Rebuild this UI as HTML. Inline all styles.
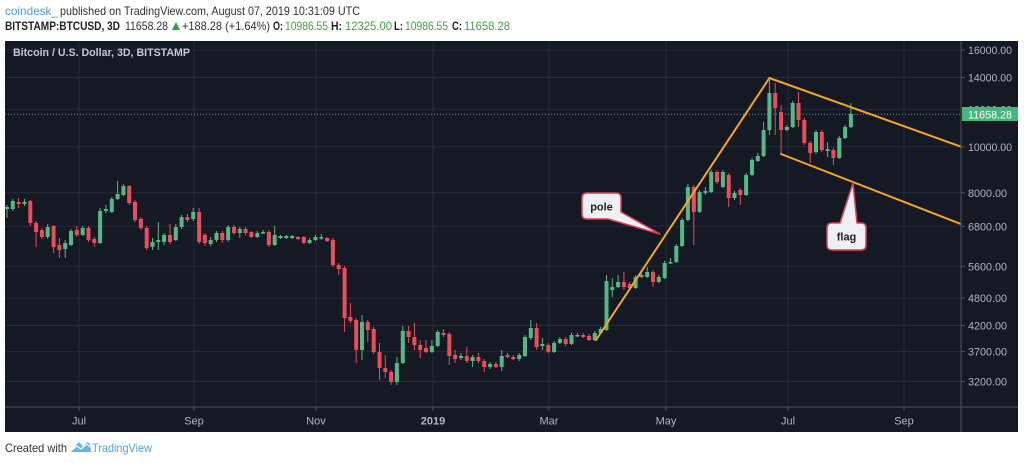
<!DOCTYPE html>
<html><head><meta charset="utf-8"><style>
html,body{margin:0;padding:0;background:#fff;width:1024px;height:463px;overflow:hidden}
svg{display:block}
text{font-family:"Liberation Sans",sans-serif}
</style></head><body>
<svg width="1024" height="463" viewBox="0 0 1024 463" xmlns="http://www.w3.org/2000/svg">
<rect x="0" y="0" width="1024" height="463" fill="#ffffff"/>
<!-- header -->
<text x="5" y="15" font-size="12" fill="#4a9fd8" textLength="53" lengthAdjust="spacingAndGlyphs">coindesk_</text>
<text x="60" y="15" font-size="12" fill="#333" textLength="300" lengthAdjust="spacingAndGlyphs">published on TradingView.com, August 07, 2019 10:31:09 UTC</text>
<text x="5" y="30" font-size="12" font-weight="bold" fill="#222" textLength="115" lengthAdjust="spacingAndGlyphs">BITSTAMP:BTCUSD, 3D</text>
<text x="125" y="30" font-size="12" fill="#333" textLength="43" lengthAdjust="spacingAndGlyphs">11658.28</text>
<polygon points="172,30 180,30 176,22" fill="#2e9e3e"/>
<text x="182" y="30" font-size="12" fill="#333" textLength="88" lengthAdjust="spacingAndGlyphs">+188.28 (+1.64%)</text>
<text x="273" y="30" font-size="12" font-weight="bold" fill="#222" textLength="10" lengthAdjust="spacingAndGlyphs">O:</text>
<text x="285" y="30" font-size="12" fill="#43a047" textLength="43" lengthAdjust="spacingAndGlyphs">10986.55</text>
<text x="331" y="30" font-size="12" font-weight="bold" fill="#222" textLength="11" lengthAdjust="spacingAndGlyphs">H:</text>
<text x="345" y="30" font-size="12" fill="#43a047" textLength="47" lengthAdjust="spacingAndGlyphs">12325.00</text>
<text x="394" y="30" font-size="12" font-weight="bold" fill="#222" textLength="9" lengthAdjust="spacingAndGlyphs">L:</text>
<text x="405" y="30" font-size="12" fill="#43a047" textLength="43" lengthAdjust="spacingAndGlyphs">10986.55</text>
<text x="452" y="30" font-size="12" font-weight="bold" fill="#222" textLength="10" lengthAdjust="spacingAndGlyphs">C:</text>
<text x="464" y="30" font-size="12" fill="#43a047" textLength="46" lengthAdjust="spacingAndGlyphs">11658.28</text>

<!-- panel -->
<rect x="5" y="41" width="1013" height="391" fill="#151924"/>
<!-- grid -->
<g stroke="#262b38" stroke-width="1">
<line x1="5" x2="961" y1="50" y2="50"/>
<line x1="5" x2="961" y1="77.5" y2="77.5"/>
<line x1="5" x2="961" y1="109.3" y2="109.3"/>
<line x1="5" x2="961" y1="146.8" y2="146.8"/>
<line x1="5" x2="961" y1="192.8" y2="192.8"/>
<line x1="5" x2="961" y1="226.3" y2="226.3"/>
<line x1="5" x2="961" y1="266.3" y2="266.3"/>
<line x1="5" x2="961" y1="298" y2="298"/>
<line x1="5" x2="961" y1="325.5" y2="325.5"/>
<line x1="5" x2="961" y1="351.6" y2="351.6"/>
<line x1="5" x2="961" y1="381.5" y2="381.5"/>
<line x1="79" x2="79" y1="41" y2="407"/>
<line x1="194" x2="194" y1="41" y2="407"/>
<line x1="316" x2="316" y1="41" y2="407"/>
<line x1="433" x2="433" y1="41" y2="407"/>
<line x1="549" x2="549" y1="41" y2="407"/>
<line x1="666" x2="666" y1="41" y2="407"/>
<line x1="788" x2="788" y1="41" y2="407"/>
<line x1="904" x2="904" y1="41" y2="407"/>
</g>
<text x="13" y="56" font-size="11" font-weight="bold" fill="#c5c8ce" textLength="177" lengthAdjust="spacingAndGlyphs">Bitcoin / U.S. Dollar, 3D, BITSTAMP</text>

<clipPath id="plot"><rect x="5" y="41" width="956" height="366"/></clipPath>
<g clip-path="url(#plot)">
<!-- current price dotted line -->
<line x1="5" x2="961" y1="114.3" y2="114.3" stroke="#5f9f86" stroke-width="1" stroke-dasharray="1,2"/>
<!-- green wicks -->
<path fill="none" stroke="#53b987" stroke-width="1" d="M7 205V218M12.8 199V211M24.5 199V206M47.7 224V239M65.2 240V258M71 229V246M82.7 226V236M100.1 208V244M105.9 205V213M111.8 197V213M117.6 181V200M123.4 184V196M152.5 238V250M158.3 222V250M164.1 233V245M175.8 224V241M181.6 215V229M193.2 208V221M210.7 237V246M216.5 231V242M228.2 225V242M239.8 227V238M257.3 231V238M263.1 230V234M274.7 226V246M280.5 235V239M286.4 235V239M292.2 235V239M309.6 238V244M315.5 235V241M321.3 234V240M362 315V360M396.9 357V385M402.8 326V364M431.9 340V353M437.7 330V347M461 353V360M472.6 355V367M490.1 362V369M501.7 350V371M519.2 353V361M525 335V357M530.8 320V340M542.4 338V350M554.1 341V353M559.9 337V344M571.5 333V345M577.4 333V337M594.8 331V341M600.6 327V334M606.5 275V331M612.3 278V297M618.1 275V288M635.6 275V289M641.4 273V278M647.2 267V278M658.8 275V283M664.7 261V279M670.5 258V264M676.3 244V263M682.1 218V247M687.9 184V221M699.6 190V213M705.4 187V195M711.2 170V193M722.9 170V188M734.5 191V200M746.1 173V196M752 158V176M757.8 153V162M763.6 122V157M769.4 80V135M786.9 125V131M792.7 101V128M816 130V154M827.6 142V157M839.3 136V159M845.1 125V139M850.9 103V128"/>
<!-- green bodies -->
<path fill="#53b987" d="M5 207h4V209h-4ZM10.8 201h4V209h-4ZM22.5 202h4V204h-4ZM45.7 227h4V237h-4ZM63.2 243h4V249h-4ZM69 231h4V245h-4ZM80.7 228h4V235h-4ZM98.1 211h4V243h-4ZM103.9 209h4V211h-4ZM109.8 199h4V212h-4ZM115.6 194h4V199h-4ZM121.4 186h4V195h-4ZM150.5 242h4V247h-4ZM156.3 240h4V242h-4ZM162.1 235h4V242h-4ZM173.8 227h4V240h-4ZM179.6 217h4V227h-4ZM191.2 212h4V219h-4ZM208.7 240h4V244h-4ZM214.5 233h4V240h-4ZM226.2 227h4V240h-4ZM237.8 229h4V233h-4ZM255.3 233h4V237h-4ZM261.1 232h4V233.5h-4ZM272.7 235h4V245h-4ZM278.5 236h4V238h-4ZM284.4 236h4V238h-4ZM290.2 236h4V238h-4ZM307.6 240h4V243h-4ZM313.5 237h4V240h-4ZM319.3 237h4V238.5h-4ZM360 322h4V350h-4ZM394.9 363h4V382h-4ZM400.8 331h4V363h-4ZM429.9 346h4V352h-4ZM435.7 332h4V346h-4ZM459 356h4V358h-4ZM470.6 357h4V361h-4ZM488.1 364h4V367h-4ZM499.7 356h4V367h-4ZM517.2 355h4V359h-4ZM523 337h4V356h-4ZM528.8 328h4V338h-4ZM540.4 344h4V346h-4ZM552.1 343h4V352h-4ZM557.9 339h4V343h-4ZM569.5 335h4V344h-4ZM575.4 335h4V336.5h-4ZM592.8 333h4V340h-4ZM598.6 329h4V333h-4ZM604.5 281h4V330h-4ZM610.3 287h4V290h-4ZM616.1 282h4V287h-4ZM633.6 277h4V288h-4ZM639.4 275h4V277h-4ZM645.2 272h4V277h-4ZM656.8 277h4V282h-4ZM662.7 263h4V278h-4ZM668.5 262h4V263.5h-4ZM674.3 246h4V262h-4ZM680.1 220h4V246h-4ZM685.9 187h4V220h-4ZM697.6 192h4V212h-4ZM703.4 191h4V193h-4ZM709.2 172h4V192h-4ZM720.9 172h4V187h-4ZM732.5 193h4V198h-4ZM744.1 175h4V195h-4ZM750 160h4V175h-4ZM755.8 156h4V161h-4ZM761.6 130h4V156h-4ZM767.4 93h4V130h-4ZM784.9 127h4V130h-4ZM790.7 103h4V127h-4ZM814 132h4V152h-4ZM825.6 149h4V151h-4ZM837.3 138h4V158h-4ZM843.1 127h4V138h-4ZM848.9 114h4V127h-4Z"/>
<!-- red wicks -->
<path fill="none" stroke="#eb4d5c" stroke-width="1" d="M18.6 198V208M30.3 200V226M36.1 221V247M41.9 228V239M53.6 225V253M59.4 238V258M76.8 226V237M88.5 226V242M94.3 237V247M129.2 185V205M135 200V222M140.9 217V230M146.7 226V250M170 224V244M187.4 214V222M199.1 208V244M204.9 233V246M222.3 231V243M234 225V235M245.6 227V235M251.4 231V238M268.9 230V247M298 236V240M303.8 236V244M327.1 237V242M332.9 238V267M338.7 263V275M344.6 266V332M350.4 303V323M356.2 318V363M367.8 320V342M373.7 327V354M379.5 343V380M385.3 355V378M391.1 370V385M408.6 326V343M414.4 323V350M420.2 340V358M426 340V353M443.5 329V337M449.3 332V365M455.1 350V363M466.8 347V363M478.4 353V363M484.2 359V372M495.9 362V368M507.5 353V358M513.3 355V360M536.6 323V350M548.3 343V353M565.7 337V346M583.2 333V338M589 334V341M623.9 272V290M629.7 282V290M653 270V287M693.8 185V245M717 170V184M728.7 173V207M740.3 188V205M775.2 83V135M781.1 105V153M798.5 92V127M804.3 118V145M810.2 141V163M821.8 130V152M833.4 148V165"/>
<!-- red bodies -->
<path fill="#eb4d5c" d="M16.6 202h4V204h-4ZM28.3 201h4V223h-4ZM34.1 223h4V232h-4ZM39.9 230h4V237h-4ZM51.6 226h4V247h-4ZM57.4 245h4V250h-4ZM74.8 230h4V235h-4ZM86.5 228h4V240h-4ZM92.3 239h4V243h-4ZM127.2 186h4V203h-4ZM133 202h4V220h-4ZM138.9 219h4V228h-4ZM144.7 228h4V248h-4ZM168 235h4V242h-4ZM185.4 217h4V220h-4ZM197.1 212h4V242h-4ZM202.9 235h4V243h-4ZM220.3 233h4V240h-4ZM232 227h4V233h-4ZM243.6 229h4V233h-4ZM249.4 232h4V237h-4ZM266.9 232h4V245h-4ZM296 237h4V239h-4ZM301.8 237h4V243h-4ZM325.1 238h4V241h-4ZM330.9 240h4V265h-4ZM336.7 265h4V269h-4ZM342.6 268h4V318h-4ZM348.4 317h4V321h-4ZM354.2 320h4V350h-4ZM365.8 322h4V330h-4ZM371.7 329h4V352h-4ZM377.5 352h4V368h-4ZM383.3 368h4V372h-4ZM389.1 372h4V382h-4ZM406.6 331h4V337h-4ZM412.4 337h4V345h-4ZM418.2 345h4V350h-4ZM424 348h4V352h-4ZM441.5 333h4V335h-4ZM447.3 334h4V356h-4ZM453.1 355h4V359h-4ZM464.8 356h4V361h-4ZM476.4 357h4V361h-4ZM482.2 361h4V367h-4ZM493.9 364h4V367h-4ZM505.5 355h4V357h-4ZM511.3 357h4V359h-4ZM534.6 328h4V347h-4ZM546.3 345h4V352h-4ZM563.7 339h4V344h-4ZM581.2 335h4V337h-4ZM587 336h4V340h-4ZM621.9 282h4V287h-4ZM627.7 284h4V288h-4ZM651 272h4V282h-4ZM691.8 187h4V212h-4ZM715 172h4V182h-4ZM726.7 175h4V198h-4ZM738.3 190h4V195h-4ZM773.2 93h4V108h-4ZM779.1 112h4V130h-4ZM796.5 103h4V120h-4ZM802.3 120h4V143h-4ZM808.2 143h4V153h-4ZM819.8 132h4V150h-4ZM831.4 150h4V158h-4Z"/>
<!-- drawings -->
<g stroke="#f5a623" stroke-width="2" fill="none" stroke-linecap="round">
<line x1="596" y1="340" x2="769.4" y2="78"/>
<line x1="769.4" y1="78" x2="962" y2="147"/>
<line x1="781" y1="154" x2="962" y2="224.5"/>
</g>
<!-- callouts -->
<path d="M587,193 H616 Q621,193 621,198 V212 L660,234 L608,219 H587 Q582,219 582,214 V198 Q582,193 587,193 Z" fill="#eef0f6" stroke="#d9434f" stroke-width="1.5" stroke-linejoin="round"/>
<text x="601.5" y="210.5" font-size="11" font-weight="bold" fill="#222" text-anchor="middle">pole</text>
<path d="M832,223 H840 L853,183 L857,223 H861 Q866,223 866,228 V245 Q866,250 861,250 H832 Q827,250 827,245 V228 Q827,223 832,223 Z" fill="#eef0f6" stroke="#d9434f" stroke-width="1.5" stroke-linejoin="round"/>
<text x="846.5" y="240.5" font-size="11" font-weight="bold" fill="#222" text-anchor="middle">flag</text>
</g>

<!-- axes separators -->
<line x1="961" y1="41" x2="961" y2="432" stroke="#50535e" stroke-width="1"/>
<line x1="5" y1="407" x2="1018" y2="407" stroke="#50535e" stroke-width="1"/>
<!-- price ticks -->
<g stroke="#50535e" stroke-width="1">
<line x1="961" x2="965" y1="50" y2="50"/>
<line x1="961" x2="965" y1="77.5" y2="77.5"/>
<line x1="961" x2="965" y1="146.8" y2="146.8"/>
<line x1="961" x2="965" y1="192.8" y2="192.8"/>
<line x1="961" x2="965" y1="226.3" y2="226.3"/>
<line x1="961" x2="965" y1="266.3" y2="266.3"/>
<line x1="961" x2="965" y1="298" y2="298"/>
<line x1="961" x2="965" y1="325.5" y2="325.5"/>
<line x1="961" x2="965" y1="351.6" y2="351.6"/>
<line x1="961" x2="965" y1="381.5" y2="381.5"/>
<line x1="79" x2="79" y1="407" y2="411"/>
<line x1="194" x2="194" y1="407" y2="411"/>
<line x1="316" x2="316" y1="407" y2="411"/>
<line x1="433" x2="433" y1="407" y2="411"/>
<line x1="549" x2="549" y1="407" y2="411"/>
<line x1="666" x2="666" y1="407" y2="411"/>
<line x1="788" x2="788" y1="407" y2="411"/>
<line x1="904" x2="904" y1="407" y2="411"/>
</g>
<g font-size="11" fill="#b2b5be">
<text x="968" y="54" textLength="44" lengthAdjust="spacingAndGlyphs">16000.00</text>
<text x="968" y="81.5" textLength="44" lengthAdjust="spacingAndGlyphs">14000.00</text>
<text x="968" y="113.3" textLength="44" lengthAdjust="spacingAndGlyphs">12000.00</text>
<text x="968" y="150.8" textLength="44" lengthAdjust="spacingAndGlyphs">10000.00</text>
<text x="968" y="196.8" textLength="39" lengthAdjust="spacingAndGlyphs">8000.00</text>
<text x="968" y="230.3" textLength="39" lengthAdjust="spacingAndGlyphs">6800.00</text>
<text x="968" y="270.3" textLength="39" lengthAdjust="spacingAndGlyphs">5600.00</text>
<text x="968" y="302" textLength="39" lengthAdjust="spacingAndGlyphs">4800.00</text>
<text x="968" y="329.5" textLength="39" lengthAdjust="spacingAndGlyphs">4200.00</text>
<text x="968" y="355.6" textLength="39" lengthAdjust="spacingAndGlyphs">3700.00</text>
<text x="968" y="385.5" textLength="39" lengthAdjust="spacingAndGlyphs">3200.00</text>
</g>
<!-- current price label -->
<rect x="962" y="107" width="56" height="14" fill="#45b97c"/>
<text x="968" y="118.3" font-size="11" fill="#ffffff" textLength="44" lengthAdjust="spacingAndGlyphs">11658.28</text>
<!-- time labels -->
<g font-size="11" fill="#b2b5be" text-anchor="middle">
<text x="79" y="424.5">Jul</text>
<text x="194" y="424.5">Sep</text>
<text x="316" y="424.5">Nov</text>
<text x="433" y="424.5" font-weight="bold">2019</text>
<text x="549" y="424.5">Mar</text>
<text x="666" y="424.5">May</text>
<text x="788" y="424.5">Jul</text>
<text x="904" y="424.5">Sep</text>
</g>

<!-- footer -->
<text x="5" y="452" font-size="12" fill="#333" textLength="62" lengthAdjust="spacingAndGlyphs">Created with</text>
<path d="M71,452 L77,444 Q79,441 81,444 L83,447 L86,443 Q88,441 90,444 L91,452 Z" fill="#5fb8e6"/>
<path d="M72,450 L77,446 L81,449 L87,444 L90,447" fill="none" stroke="#ffffff" stroke-width="1.2"/>
<text x="92" y="452" font-size="12" fill="#4aa8dc" textLength="60" lengthAdjust="spacingAndGlyphs">TradingView</text>
</svg>
</body></html>
